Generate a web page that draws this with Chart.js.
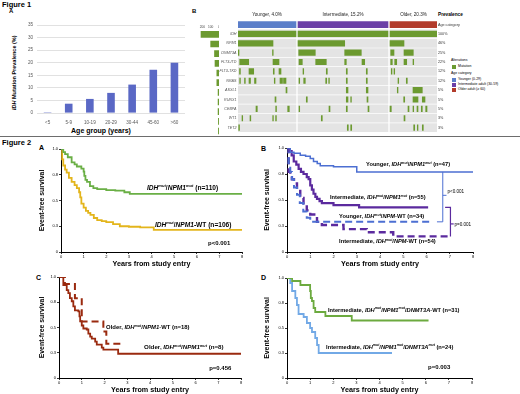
<!DOCTYPE html>
<html><head><meta charset="utf-8">
<script src="https://cdn.jsdelivr.net/npm/chart.js@4.4.1/dist/chart.umd.min.js"></script>
<style>
html,body{margin:0;padding:0;background:#fff;}
#fig{position:relative;width:520px;height:394px;overflow:hidden;font-family:"Liberation Sans",Arial,sans-serif;background:#fff;color:#000;}
.t{position:absolute;white-space:nowrap;line-height:1;}
.b{font-weight:bold;}
canvas{position:absolute;}
.sq{position:absolute;width:4px;height:4px;}
</style></head><body>
<div id="fig">
  <div class="t b" style="left:2px;top:1px;font-size:7.5px;">Figure 1</div>
  <div class="t b" style="left:9px;top:8px;font-size:6px;">A</div>
  <div class="t b" style="left:192px;top:8px;font-size:6px;">B</div>
  <div class="t b" style="left:0;width:202px;text-align:center;top:127px;font-size:7px;">Age group (years)</div>
  <div class="t b" style="left:-45px;top:70px;width:120px;text-align:center;font-size:5.5px;transform:rotate(-90deg);"><i>IDH</i> Mutation Prevalence (%)</div>

  <div class="t b" style="left:438px;top:12.5px;font-size:4.7px;">Prevalence</div>
  <div class="t" style="left:451px;top:59px;font-size:3.5px;">Alterations</div>
  <div class="sq" style="left:452px;top:65px;background:#6c9a30;"></div>
  <div class="t" style="left:458px;top:65.3px;font-size:3.5px;">Mutation</div>
  <div class="t" style="left:451px;top:72px;font-size:3.5px;">Age category</div>
  <div class="sq" style="left:452px;top:78px;background:#5b7ec9;"></div>
  <div class="t" style="left:458px;top:78.3px;font-size:3.5px;">Younger (0-29)</div>
  <div class="sq" style="left:452px;top:83px;background:#6b3fa6;"></div>
  <div class="t" style="left:458px;top:83.3px;font-size:3.5px;">Intermediate adult (30-59)</div>
  <div class="sq" style="left:452px;top:88px;background:#b23b2b;"></div>
  <div class="t" style="left:458px;top:88.3px;font-size:3.5px;">Older adult (≥ 60)</div>

  <div style="position:absolute;left:0;top:135.5px;width:520px;height:1.5px;background:#6d6d6d;"></div>
  <div class="t b" style="left:2px;top:139px;font-size:7.5px;">Figure 2</div>
  <div class="t b" style="left:39px;top:144px;font-size:7px;">A</div>
  <div class="t b" style="left:261px;top:145px;font-size:7px;">B</div>
  <div class="t b" style="left:36px;top:274px;font-size:7px;">C</div>
  <div class="t b" style="left:261px;top:274px;font-size:7px;">D</div>

  <canvas id="c1a" width="195" height="122" style="left:0;top:14px;"></canvas>
  <canvas id="c1cnt" width="24" height="128" style="left:195px;top:8px;"></canvas>
  <canvas id="c1b" width="248" height="128" style="left:219px;top:8px;"></canvas>
  <canvas id="cA" width="260" height="131" style="left:0;top:137px;"></canvas>
  <canvas id="cB" width="260" height="131" style="left:260px;top:137px;"></canvas>
  <canvas id="cC" width="260" height="126" style="left:0;top:268px;"></canvas>
  <canvas id="cD" width="260" height="126" style="left:260px;top:268px;"></canvas>
</div>
<script>
// ================= DATA =================
// Figure 1A
const ageGroups = ['<5','5-9','10-19','20-29','30-44','45-60','>60'];
const idhPrevalence = [0.3, 3.7, 5.6, 8.0, 11.3, 17.2, 20.0];

// Figure 1B (oncoprint)
const genes = ['IDH','NPM1','DNMT3A','FLT3-ITD','FLT3-TKD','NRAS','ASXL1','RUNX1','CEBPA','WT1','TET2'];
const geneCounts = [216, 100, 54, 48, 26, 26, 11, 11, 11, 7, 7];
const genePrevalence = ['100%','46%','25%','22%','12%','12%','5%','5%','5%','3%','3%'];
const countTicks = [0, 100, 200];
const ageCategoryHeaders = ['Younger, 4.0%','Intermediate, 15.2%','Older, 20.3%'];
const ageCategoryColumns = [58, 90, 47];
const youngerMutations = [
  ['IDH',0,58],['NPM1',0,35],['DNMT3A',0.3,1],['DNMT3A',34.5,35.2],
  ['FLT3-ITD',1.7,10.7],['FLT3-ITD',35,41],
  ['FLT3-TKD',1.5,2.4],['FLT3-TKD',11,15.7],['FLT3-TKD',35.3,36.2],['FLT3-TKD',41,43],
  ['NRAS',1.7,2.4],['NRAS',6.5,7.3],['NRAS',11,12.5],['NRAS',16.5,18],['NRAS',36.3,37],['NRAS',42,44.5],['NRAS',45.5,48],
  ['ASXL1',48,49],['RUNX1',37,38],
  ['CEBPA',18,19.3],['CEBPA',37.7,38.5],['CEBPA',49.7,51.3],
  ['WT1',4,4.7],['WT1',12,12.8],['WT1',34.7,35.4],['WT1',37.6,38.4],
  ['TET2',0.7,1.5]
];
const intermediateMutations = [
  ['IDH',0,90],['NPM1',0,46.7],['DNMT3A',0.7,17.3],['DNMT3A',46.7,63.3],
  ['FLT3-ITD',1,4.3],['FLT3-ITD',17.7,28.3],['FLT3-ITD',46.7,48.3],['FLT3-ITD',64,66.7],
  ['FLT3-TKD',5,5.7],['FLT3-TKD',28.3,29.3],['FLT3-TKD',48.3,49.3],['FLT3-TKD',68.3,69.3],
  ['NRAS',1,1.7],['NRAS',5.7,7.3],['NRAS',27.7,28.7],['NRAS',30.7,31.4],['NRAS',48.3,49.3],['NRAS',68.3,69.3],
  ['ASXL1',48.3,50],['ASXL1',68.3,70],
  ['RUNX1',8.3,9.3],['RUNX1',48.3,50],['RUNX1',52.7,53.4],['RUNX1',69,70],
  ['CEBPA',1,1.7],['CEBPA',31,32],['CEBPA',48.3,49.3],['CEBPA',70,71],
  ['WT1',23.3,24.3],
  ['TET2',49.3,50.3],['TET2',52.7,53.7]
];
const olderMutations = [
  ['IDH',0,47],['NPM1',0,14],['DNMT3A',0.7,4],['DNMT3A',14,23.3],
  ['FLT3-ITD',0.7,2.3],['FLT3-ITD',4.7,6.7],['FLT3-ITD',14,16.7],['FLT3-ITD',23,23.7],
  ['FLT3-TKD',1.3,2],['FLT3-TKD',4,4.7],
  ['NRAS',8,8.7],['NRAS',16.3,17.3],
  ['ASXL1',7.3,8],['ASXL1',23,32.3],
  ['RUNX1',13.7,14.7],['RUNX1',23,28],['RUNX1',32.3,35],
  ['CEBPA',0,1.3],['CEBPA',18,19],['CEBPA',23,23.7],['CEBPA',27,28],['CEBPA',31.3,32.3],['CEBPA',35.7,37],
  ['WT1',14,15],
  ['TET2',23.7,24.7],['TET2',27.3,28],['TET2',32.3,33.3]
];

// Figure 2 Kaplan-Meier curves (years, event-free survival)
const yearsTicks = [0,1,2,3,4,5,6,7,8];
const efsTicks = [0,0.25,0.5,0.75,1];
const A_npm1mut_t = [0,0.1,0.18,0.3,0.47,0.6,0.7,0.9,1.0,1.03,1.08,1.15,1.28,1.43,1.6,2.0,2.4,2.8,3.04,8];
const A_npm1mut_s = [1,0.97,0.95,0.92,0.87,0.85,0.83,0.81,0.78,0.74,0.7,0.68,0.64,0.62,0.61,0.6,0.595,0.58,0.565,0.565];
const A_npm1wt_t = [0,0.05,0.1,0.18,0.25,0.35,0.47,0.6,0.7,0.8,0.85,0.9,1.0,1.1,1.2,1.3,1.45,1.6,1.8,2.0,2.3,2.6,3.0,3.5,4.1,8];
const A_npm1wt_s = [1,0.9,0.84,0.8,0.77,0.72,0.68,0.65,0.62,0.58,0.53,0.47,0.43,0.4,0.38,0.36,0.33,0.31,0.3,0.29,0.27,0.25,0.245,0.24,0.215,0.215];

const B_youngMut_t = [0,0.14,0.3,0.57,0.8,1.0,1.14,1.3,1.43,2.0,3.0,8];
const B_youngMut_s = [1,0.96,0.95,0.93,0.92,0.9,0.87,0.85,0.83,0.82,0.77,0.77];
const B_interMut_t = [0,0.1,0.2,0.29,0.4,0.5,0.6,0.71,0.85,0.93,1.0,1.07,1.14,1.22,1.29,1.4,1.5,2.0,3.1,6.07];
const B_interMut_s = [1,0.97,0.93,0.87,0.84,0.8,0.77,0.75,0.72,0.7,0.64,0.6,0.56,0.53,0.51,0.49,0.47,0.45,0.43,0.43];
const B_youngWT_t = [0,0.07,0.14,0.21,0.3,0.43,0.55,0.7,0.85,1.0,6.14];
const B_youngWT_s = [1,0.83,0.77,0.7,0.62,0.55,0.47,0.39,0.33,0.29,0.29];
const B_interWT_t = [0,0.07,0.14,0.21,0.3,0.43,0.57,0.71,0.85,1.0,1.29,1.5,2.43,3.43,4.57,7.0];
const B_interWT_s = [1,0.77,0.72,0.7,0.66,0.6,0.52,0.45,0.4,0.36,0.29,0.26,0.22,0.19,0.15,0.15];
const B_bracketYoung_t = [6.45,6.7,6.7];
const B_bracketYoung_s = [0.29,0.29,0.77];
const B_bracketYoungTick_t = [6.7,6.86];
const B_bracketYoungTick_s = [0.545,0.545];
const B_bracketInter_t = [6.8,7.03,7.03];
const B_bracketInter_s = [0.43,0.43,0.15];
const B_bracketInterTick_t = [7.03,7.17];
const B_bracketInterTick_s = [0.27,0.27];

const C_npm1mut_t = [0,0.19,0.34,0.41,0.48,0.56,0.63,0.7,0.85,0.9,0.93,1.0,1.07,1.22,1.29,1.37,1.44,1.59,1.66,1.88,1.95,2.6,8];
const C_npm1mut_s = [1,0.92,0.87,0.84,0.79,0.76,0.71,0.67,0.66,0.61,0.56,0.52,0.49,0.48,0.44,0.41,0.39,0.36,0.33,0.3,0.28,0.24,0.24];
const C_npm1wt_t = [0,0.26,0.7,1.0,1.95,2.08,2.7];
const C_npm1wt_s = [1,0.93,0.79,0.56,0.46,0.34,0.34];

const D_dnmtWT_t = [0,0.22,0.58,1.0,1.03,1.08,1.15,1.22,1.66,2.8,6.12];
const D_dnmtWT_s = [1,0.97,0.93,0.87,0.8,0.77,0.7,0.66,0.62,0.575,0.575];
const D_dnmtMut_t = [0,0.14,0.22,0.36,0.43,0.5,0.72,0.86,1.0,1.08,1.22,1.3,1.37,4.54];
const D_dnmtMut_s = [1,0.95,0.87,0.8,0.73,0.64,0.61,0.55,0.5,0.46,0.4,0.33,0.25,0.25];

// ================= COLORS =================
const FONT = '"Liberation Sans", Arial, sans-serif';
const barBlue = '#5a68c5';
const mutGreen = '#6c9a30';
const rowGray = '#e4e4e4';
const ageColors = ['#5b7ec9','#6b3fa6','#b23b2b'];

Chart.defaults.font.family = FONT;
Chart.defaults.animation = false;
Chart.defaults.events = [];
Chart.defaults.plugins.legend.display = false;
Chart.defaults.plugins.tooltip.enabled = false;

const noGrid = { display: false, drawTicks: false };

// ================= FIGURE 1A =================
new Chart(document.getElementById('c1a'), {
  type: 'bar',
  data: { labels: ageGroups, datasets: [{ data: idhPrevalence, backgroundColor: barBlue, barPercentage: 0.36, categoryPercentage: 1 }] },
  options: {
    responsive: false,
    layout: { padding: { left: 0, top: 11, right: 10, bottom: 0 } },
    scales: {
      x: { grid: noGrid, border: { display: false },
           ticks: { font: { size: 4.6 }, color: '#595959', padding: 6.5, maxRotation: 0, autoSkip: false },
           afterFit: s => { s.height = 23; } },
      y: { min: 0, max: 35, ticks: { stepSize: 5, font: { size: 4.6 }, color: '#595959', padding: 4 },
           grid: { color: '#d9d9d9', drawTicks: false, lineWidth: 0.8 }, border: { display: false },
           afterFit: s => { s.width = 37; } }
    }
  }
});

// ================= FIGURE 1B =================
const rows = ['Age'].concat(genes);
const groupStart = [];
let acc = 0;
ageCategoryColumns.forEach((w, i) => { groupStart.push(acc); acc += w + 2; });
const totalCols = groupStart[2] + ageCategoryColumns[2];
const groupCenters = ageCategoryColumns.map((w, i) => groupStart[i] + w / 2);

const bgData = [];
genes.forEach(g => ageCategoryColumns.forEach((w, i) => bgData.push({ x: [groupStart[i], groupStart[i] + w], y: g })));
const ageData = ageCategoryColumns.map((w, i) => ({ x: [groupStart[i], groupStart[i] + w], y: 'Age' }));
const mutData = [];
[youngerMutations, intermediateMutations, olderMutations].forEach((list, gi) =>
  list.forEach(([g, a, b]) => mutData.push({ x: [groupStart[gi] + a, groupStart[gi] + b], y: g })));

new Chart(document.getElementById('c1b'), {
  type: 'bar',
  data: { labels: rows, datasets: [
    { data: mutData, backgroundColor: mutGreen, barThickness: 5.5, grouped: false, order: 0 },
    { data: ageData, backgroundColor: ageColors, barThickness: 6, grouped: false, order: 1 },
    { data: bgData, backgroundColor: rowGray, barThickness: 8, grouped: false, order: 2 }
  ]},
  options: {
    responsive: false, indexAxis: 'y',
    layout: { padding: { left: 0, top: 0, right: 0, bottom: 0.2 } },
    scales: {
      x: { type: 'linear', position: 'top', min: 0, max: totalCols,
           grid: noGrid, border: { display: false },
           afterBuildTicks: s => { s.ticks = groupCenters.map(v => ({ value: v })); },
           ticks: { autoSkip: false, maxRotation: 0, padding: 2.2, font: { size: 4.6 }, color: '#222',
                    callback: (v, i) => ageCategoryHeaders[i] },
           afterFit: s => { s.height = 11.9; } },
      y: { type: 'category', labels: rows, offset: true, grid: noGrid, border: { display: false },
           ticks: { autoSkip: false, padding: 1.5, font: { size: 3.7, style: 'italic' }, color: '#555',
                    callback: (v, i) => i === 0 ? '' : rows[i] },
           afterFit: s => { s.width = 19; } },
      y2: { type: 'category', position: 'right', labels: ['Age category'].concat(genePrevalence), offset: true,
            grid: noGrid, border: { display: false },
            ticks: { autoSkip: false, padding: 1, font: { size: 3.7 }, color: '#333' },
            afterFit: s => { s.width = 30; } }
    }
  }
});

new Chart(document.getElementById('c1cnt'), {
  type: 'bar',
  data: { labels: genes, datasets: [{ data: geneCounts, backgroundColor: mutGreen, barThickness: 6 }] },
  options: {
    responsive: false, indexAxis: 'y',
    layout: { padding: { left: 4, top: 13.5, right: 0, bottom: 0.2 } },
    scales: {
      x: { position: 'top', reverse: true, min: 0, max: 240, grid: noGrid, border: { display: false },
           afterBuildTicks: s => { s.ticks = countTicks.map(v => ({ value: v })); },
           ticks: { font: { size: 3.2 }, color: '#444', padding: 0.5, maxRotation: 0, autoSkip: false },
           afterFit: s => { s.height = 8; } },
      y: { display: false }
    }
  }
});

// ================= FIGURE 2 =================
const richItems = {};
const richPlugin = {
  id: 'richText',
  afterDatasetsDraw(chart) {
    const items = richItems[chart.canvas.id] || [];
    const { ctx } = chart; const x = chart.scales.x, y = chart.scales.y;
    items.forEach(it => {
      let px = x.getPixelForValue(it.x); const py = y.getPixelForValue(it.y);
      const size = it.size;
      ctx.save();
      ctx.textBaseline = 'middle'; ctx.textAlign = 'left'; ctx.fillStyle = '#000';
      it.parts.forEach(([txt, st]) => {
        const sup = st.indexOf('s') >= 0;
        const fs = sup ? size * 0.62 : size;
        ctx.font = (st.indexOf('i') >= 0 ? 'italic ' : '') + (it.bold ? 'bold ' : '') + fs + 'px ' + FONT;
        ctx.fillText(txt, px, sup ? py - size * 0.33 : py);
        px += ctx.measureText(txt).width;
      });
      ctx.restore();
    });
  }
};

function pts(t, s) { return t.map((v, i) => ({ x: v, y: s[i] })); }
function curve(t, s, color, width, dash) {
  return { data: pts(t, s), borderColor: color, borderWidth: width, borderDash: dash || [], stepped: true,
           pointRadius: 0, fill: false, borderCapStyle: 'butt' };
}
function segment(t, s, color, width) {
  return { data: pts(t, s), borderColor: color, borderWidth: width, stepped: false, pointRadius: 0, fill: false };
}

function km(id, rect, area, padL, datasets, items) {
  richItems[id] = items;
  return new Chart(document.getElementById(id), {
    type: 'line',
    data: { datasets },
    options: {
      responsive: false,
      layout: { padding: { left: padL, top: area.t - rect.t, right: rect.l + rect.w - area.r, bottom: 0 } },
      scales: {
        x: { type: 'linear', min: 0, max: 8,
             afterBuildTicks: s => { s.ticks = yearsTicks.map(v => ({ value: v })); },
             ticks: { font: { size: 4 }, color: '#000', padding: 0.5, maxRotation: 0, autoSkip: false },
             grid: { drawOnChartArea: false, drawTicks: true, tickLength: 2, color: '#000', lineWidth: 0.8 },
             border: { color: '#000', width: 1 },
             title: { display: true, text: 'Years from study entry', font: { size: 7.2, weight: 'bold' }, color: '#000', padding: { top: 0, bottom: 0 } },
             afterFit: s => { s.height = rect.t + rect.h - area.b; } },
        y: { min: 0, max: 1,
             afterBuildTicks: s => { s.ticks = efsTicks.map(v => ({ value: v })); },
             ticks: { font: { size: 4 }, color: '#000', padding: 1, autoSkip: false },
             grid: { drawOnChartArea: false, drawTicks: true, tickLength: 2, color: '#000', lineWidth: 0.8 },
             border: { color: '#000', width: 1 },
             title: { display: true, text: 'Event-free survival', font: { size: 6.9, weight: 'bold' }, color: '#000', padding: { top: 0, bottom: 0 } },
             afterFit: s => { s.width = area.l - rect.l - padL; } }
      }
    },
    plugins: [richPlugin]
  });
}

const idhMut = [['IDH','i'],['mut','is'],['/','n']];
const npm1Mut = [['NPM1','i'],['mut','is']];

km('cA', { l: 0, t: 137, w: 260, h: 131 }, { l: 61, t: 149, r: 242, b: 252 }, 37.5, [
  curve(A_npm1mut_t, A_npm1mut_s, '#6aaf45', 1.8),
  curve(A_npm1wt_t, A_npm1wt_s, '#e3b51c', 1.8)
], [
  { x: 3.8, y: 0.62, size: 6.6, bold: true, parts: idhMut.concat(npm1Mut, [[' (n=110)','n']]) },
  { x: 4.15, y: 0.26, size: 6.6, bold: true, parts: idhMut.concat([['NPM1','i'],['-WT (n=106)','n']]) },
  { x: 6.5, y: 0.087, size: 6, bold: true, parts: [['p<0.001','n']] }
]);

const bBlue = '#4c6fd2', bPurple = '#5b2a9e';
km('cB', { l: 260, t: 137, w: 260, h: 131 }, { l: 287, t: 148, r: 473, b: 252 }, 2.8, [
  curve(B_youngMut_t, B_youngMut_s, bBlue, 1.5),
  curve(B_interMut_t, B_interMut_s, bPurple, 2.2),
  curve(B_youngWT_t, B_youngWT_s, bBlue, 2.0, [7, 4]),
  curve(B_interWT_t, B_interWT_s, bPurple, 2.4, [7, 4]),
  segment(B_bracketYoung_t, B_bracketYoung_s, bBlue, 1),
  segment(B_bracketYoungTick_t, B_bracketYoungTick_s, bBlue, 1),
  segment(B_bracketInter_t, B_bracketInter_s, bPurple, 1.2),
  segment(B_bracketInterTick_t, B_bracketInterTick_s, bPurple, 1.2)
], [
  { x: 3.4, y: 0.84, size: 5.7, bold: true, parts: [['Younger, ','n']].concat(idhMut, npm1Mut, [[' (n=47)','n']]) },
  { x: 1.85, y: 0.52, size: 5.7, bold: true, parts: [['Intermediate, ','n']].concat(idhMut, npm1Mut, [[' (n=55)','n']]) },
  { x: 2.24, y: 0.34, size: 5.7, bold: true, parts: [['Younger, ','n']].concat(idhMut, [['NPM','i'],['-WT (n=34)','n']]) },
  { x: 2.24, y: 0.1, size: 5.7, bold: true, parts: [['Intermediate, ','n']].concat(idhMut, [['NPM','i'],['-WT (n=54)','n']]) },
  { x: 6.9, y: 0.575, size: 4.6, bold: false, parts: [['p<0.001','n']] },
  { x: 7.2, y: 0.26, size: 4.6, bold: false, parts: [['p=0.001','n']] }
]);

const cRed = '#9a2a0f';
km('cC', { l: 0, t: 268, w: 260, h: 126 }, { l: 59, t: 277, r: 241, b: 378 }, 38, [
  curve(C_npm1mut_t, C_npm1mut_s, cRed, 1.8),
  curve(C_npm1wt_t, C_npm1wt_s, cRed, 2.0, [7, 4])
], [
  { x: 2.07, y: 0.5, size: 5.9, bold: true, parts: [['Older, ','n']].concat(idhMut, [['NPM1','i'],['-WT (n=18)','n']]) },
  { x: 3.74, y: 0.3, size: 6.2, bold: true, parts: [['Older, ','n']].concat(idhMut, npm1Mut, [[' (n=8)','n']]) },
  { x: 6.6, y: 0.1, size: 6, bold: true, parts: [['p=0.456','n']] }
]);

km('cD', { l: 260, t: 268, w: 260, h: 126 }, { l: 287, t: 278, r: 472, b: 378 }, 2.8, [
  curve(D_dnmtWT_t, D_dnmtWT_s, '#6caa3f', 1.8),
  curve(D_dnmtMut_t, D_dnmtMut_s, '#72a9e6', 1.8)
], [
  { x: 1.77, y: 0.68, size: 5.7, bold: true, parts: [['Intermediate, ','n']].concat(idhMut, npm1Mut, [['/','n'],['DNMT3A','i'],['-WT (n=31)','n']]) },
  { x: 1.69, y: 0.31, size: 5.7, bold: true, parts: [['Intermediate, ','n']].concat(idhMut, npm1Mut, [['/','n'],['DNMT3A','i'],['mut','is'],[' (n=24)','n']]) },
  { x: 6.1, y: 0.11, size: 6, bold: true, parts: [['p=0.003','n']] }
]);
</script>
</body></html>
